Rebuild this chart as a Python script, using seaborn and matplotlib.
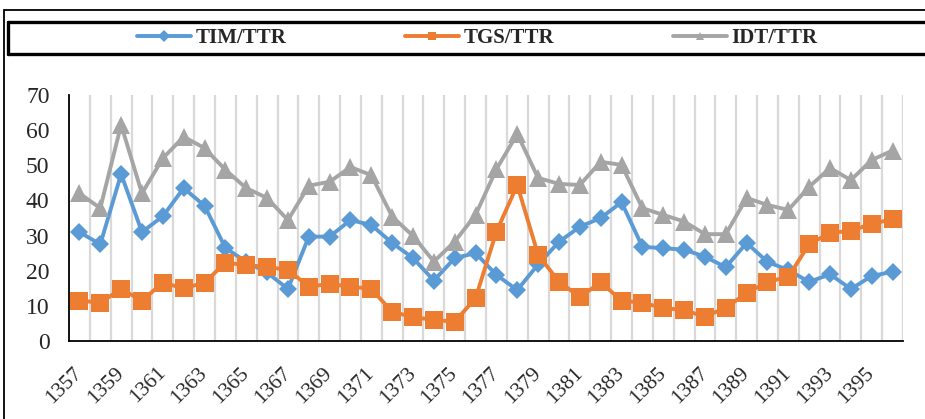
"""Recreate the TIM/TTR, TGS/TTR, IDT/TTR line chart."""

import matplotlib
matplotlib.use("Agg")
import matplotlib.pyplot as plt
import numpy as np
import pandas as pd
import seaborn as sns
from matplotlib.lines import Line2D

YEARS = list(range(1357, 1397))
TIM_TTR = [31, 27.5, 47.5, 31, 35.5, 43.5, 38.5, 26.5, 22.5, 19.5,
           14.8, 29.7, 29.7, 34.4, 33, 27.9, 23.6, 17.2, 23.6, 25,
           18.8, 14.5, 21.8, 28.2, 32.5, 35, 39.5, 26.8, 26.4, 26,
           24, 21, 27.9, 22.5, 20.2, 16.8, 19, 14.8, 18.5, 19.7]
TGS_TTR = [11.5, 10.9, 14.8, 11.5, 16.6, 15, 16.6, 22.3, 21.6, 21.1,
           20.2, 15.5, 16.2, 15.5, 14.8, 8.3, 6.8, 6, 5.5, 12.2,
           31.1, 44.4, 24.5, 16.9, 12.5, 16.7, 11.5, 10.9, 9.4, 8.8,
           6.9, 9.5, 13.6, 16.9, 18.2, 27.6, 30.7, 31.4, 33.3, 34.7]
IDT_TTR = [42, 37.8, 61.5, 42, 52, 58.1, 54.9, 48.7, 43.5, 40.7,
           34.4, 44.2, 45.3, 49.5, 47.2, 35.4, 29.9, 22.6, 28.3, 35.9,
           48.9, 58.9, 46.4, 44.7, 44.4, 51, 50.1, 37.8, 35.9, 34,
           30.4, 30.4, 40.7, 38.7, 37.3, 43.9, 49.2, 45.8, 51.5, 54.2]

SERIES = ["TIM/TTR", "TGS/TTR", "IDT/TTR"]
COLORS = ["#5B9BD5", "#ED7D31", "#A5A5A5"]
MARKERS = ["D", "s", "^"]
MARKER_SIZES = [9.5, 12.5, 13]


def px_line(fig, xs, ys, lw):
    """Add a line to the figure given in pixel coordinates (top-left origin)."""
    w, h = 925, 419
    fig.add_artist(Line2D([x / w for x in xs], [1 - y / h for y in ys],
                          transform=fig.transFigure, color="black", linewidth=lw))


def main() -> None:
    sns.set_style("white")
    plt.rcParams["font.family"] = ["Liberation Serif", "DejaVu Serif"]

    df = pd.DataFrame({
        "idx": np.tile(np.arange(len(YEARS)), 3),
        "value": TIM_TTR + TGS_TTR + IDT_TTR,
        "series": np.repeat(SERIES, len(YEARS)),
    })

    fig = plt.figure(figsize=(9.25, 4.19), dpi=100)
    ax = fig.add_axes([69 / 925, 1 - 341 / 419, (903 - 69) / 925, (341 - 95) / 419])

    for name, color, marker, ms in zip(SERIES, COLORS, MARKERS, MARKER_SIZES):
        sub = df[df["series"] == name]
        sns.lineplot(data=sub, x="idx", y="value", color=color, marker=marker,
                     markersize=ms, markeredgewidth=0, linewidth=2.8,
                     label=name, ax=ax, legend=False)

    ax.set_xlim(-0.5, len(YEARS) - 0.5)
    ax.set_ylim(0, 70)
    ax.set_yticks(range(0, 71, 10))
    ax.set_xticks(range(0, len(YEARS), 2))
    ax.set_xticks(np.arange(0.5, len(YEARS), 1), minor=True)
    ax.set_xticklabels([str(y) for y in YEARS[::2]], rotation=45, ha="right",
                       va="center", rotation_mode="anchor")
    ax.grid(which="minor", axis="x", color="#D9D9D9", linewidth=1.6)
    ax.grid(which="major", axis="both", visible=False)
    ax.tick_params(axis="both", which="both", length=0)
    ax.tick_params(axis="x", pad=21, labelsize=15.5)
    ax.tick_params(axis="y", pad=14, labelsize=17)
    ax.set(xlabel="", ylabel="")
    for side in ("top", "right"):
        ax.spines[side].set_visible(False)
    for side in ("left", "bottom"):
        ax.spines[side].set_color("black")
        ax.spines[side].set_linewidth(1.3)

    handles, labels = ax.get_legend_handles_labels()
    leg = fig.legend(handles, labels, loc="center", ncol=3, frameon=False,
                     bbox_to_anchor=(477 / 925, 1 - 38 / 419),
                     prop={"family": "Liberation Serif", "weight": "bold", "size": 15},
                     handlelength=2.6, handletextpad=0.2, columnspacing=5.7)
    for h in leg.legend_handles:
        h.set_markersize(6)

    # outer chart border (top and left only, the rest is cut off)
    px_line(fig, [4, 940], [10, 10], 1.3)
    px_line(fig, [4, 4], [10, 430], 1.3)
    # legend frame
    px_line(fig, [8, 940], [22, 22], 2.4)
    px_line(fig, [8, 940], [54, 54], 2.4)
    px_line(fig, [8, 8], [22, 54], 2.4)

    fig.savefig("out.png", dpi=100)
    plt.close(fig)


if __name__ == "__main__":
    main()
